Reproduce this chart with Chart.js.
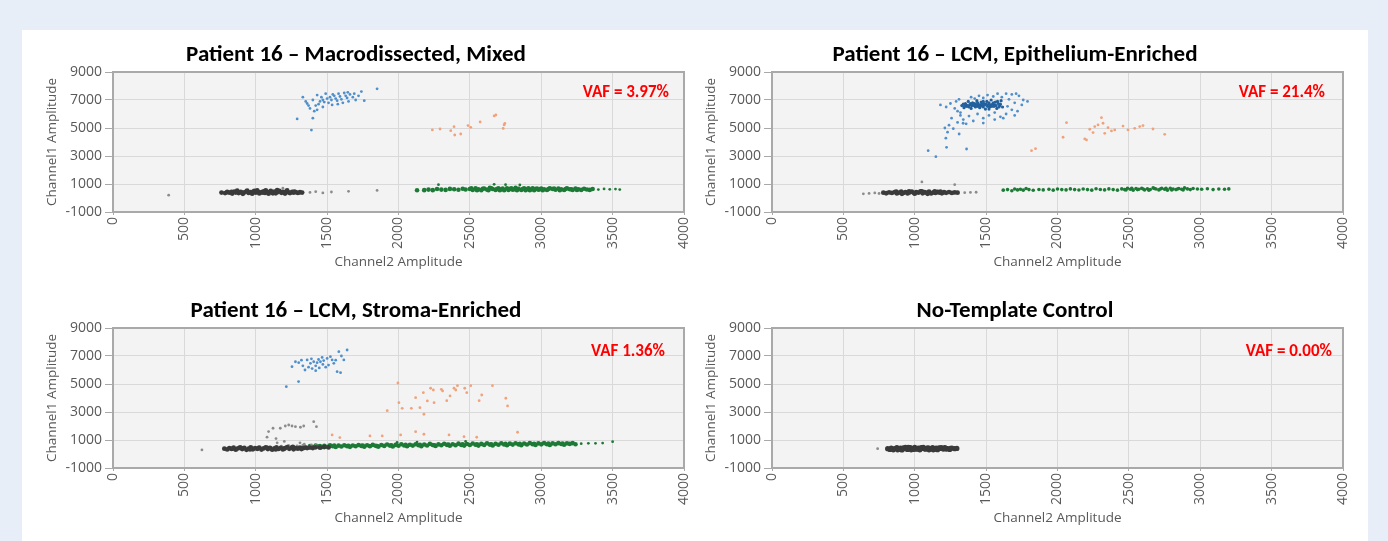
<!DOCTYPE html>
<html>
<head>
<meta charset="utf-8">
<script src="https://cdn.jsdelivr.net/npm/chart.js@4"></script>
<style>
body{margin:0;background:#e7eef8;width:1388px;height:541px;overflow:hidden;position:relative}
#panel{position:absolute;left:22px;top:30px;width:1346px;height:511px;background:#fff}
canvas{position:absolute}
</style>
</head>
<body>
<div id="panel"></div>
<canvas id="c1" width="672" height="242" style="left:28px;top:36px"></canvas>
<canvas id="c2" width="672" height="242" style="left:687px;top:36px"></canvas>
<canvas id="c3" width="672" height="242" style="left:28px;top:292px"></canvas>
<canvas id="c4" width="672" height="242" style="left:687px;top:292px"></canvas>
<script>
// axes
const xTicks=[0,500,1000,1500,2000,2500,3000,3500,4000];
const yTicks=[-1000,1000,3000,5000,7000,9000];
const titles=['Patient 16 \u2013 Macrodissected, Mixed','Patient 16 \u2013 LCM, Epithelium-Enriched','Patient 16 \u2013 LCM, Stroma-Enriched','No-Template Control'];
const vafs=['VAF = 3.97%','VAF = 21.4%','VAF 1.36%','VAF = 0.00%'];

// droplets [Channel2, Channel1]
// --- Patient 16 macrodissected
const mixGray=[
[760,390],[785,350],[800,430],[815,380],[835,320],[850,460],[860,390],[880,350],[895,440],[910,300],[920,400],[935,470],[950,360],[965,420],[975,310],[990,500],[1000,380],[1015,450],[1025,330],[1040,410],[1055,480],[1065,360],[1080,430],[1090,310],[1105,500],[1115,390],[1130,450],[1140,340],[1155,420],[1165,510],[1180,370],[1190,440],[1205,320],[1215,470],[1230,400],[1240,350],[1255,440],[1265,380],[1280,420],[1295,360],[1310,410],[1325,390],
[870,520],[940,530],[1010,540],[1070,550],[1150,560],[1220,540],
[830,440],[905,360],[980,440],[1050,390],[1120,340],[1200,400],[1270,460]];
const mixRain=[[390,200],[1190,700],[1380,400],[1420,450],[1470,360],[1530,430],[1650,480],[1850,540]];
const mixGreen=[[2130,550],[2180,560],[2210,600],[2240,560],[2270,640],[2300,600],[2330,580],[2360,650],[2390,620],[2420,590],[2450,660],[2470,610],
[2500,640],[2520,580],[2540,700],[2560,620],[2580,560],[2600,680],[2620,600],[2640,720],[2660,640],[2680,580],[2700,690],[2720,620],[2740,560],[2760,700],[2780,640],[2800,590],[2820,720],[2840,650],[2860,580],[2880,690],[2900,620],[2920,560],[2940,700],[2960,640],[2980,590],[3000,680],[3020,620],[3040,570],[3060,700],[3080,640],[3100,590],[3120,680],[3140,620],[3160,570],[3180,690],[3200,630],[3220,580],[3240,670],[3260,620],[3280,580],[3300,660],[3320,610],[3340,580],[3360,640],
[2510,700],[2550,560],[2590,660],[2630,560],[2650,700],[2690,640],[2710,560],[2730,680],[2770,580],[2790,700],[2810,620],[2830,560],[2870,640],[2890,560],[2910,700],[2930,620],[2950,560],[2970,680],[2990,620],[3010,560],[3050,640],[3090,680],[3130,560],[3170,640],[3210,620],[3250,580]];
const mixGreenOut=[[2280,950],[2670,980],[2750,950],[2850,930],[3400,600],[3440,650],[3480,620],[3520,640],[3550,600]];
const mixBlue=[[1290,5650],[1390,4850],[1400,5700],[1410,6200],[1380,6400],[1330,7200],[1350,6900],[1360,6750],[1420,6600],[1440,6700],[1450,6900],[1470,7000],[1480,6850],[1500,7100],[1510,6800],[1520,7200],[1530,7000],[1540,7400],[1550,7300],[1560,7100],[1570,6950],[1580,7450],[1590,7250],[1600,7050],[1610,6800],[1620,7500],[1630,7300],[1640,7150],[1650,6900],[1660,7400],[1680,7200],[1700,7000],[1720,7300],[1740,7600],[1760,6950],[1850,7800],[1430,7350],[1460,7200],[1490,7450],[1535,6650],[1575,6700],[1645,7550],[1690,7450],[1370,6600],[1400,7000],[1470,6500],[1430,6300]];
const mixOrange=[[2237,4860],[2291,4930],[2366,4810],[2389,5095],[2394,4500],[2436,4570],[2487,5170],[2506,5050],[2572,5430],[2670,5860],[2682,5930],[2740,5220],[2733,4970],[2745,5330]];

// --- Patient 16 LCM epithelium
const epiGray=[[780,380],[800,340],[820,400],[840,360],[860,420],[875,330],[890,390],[905,450],[920,360],[935,420],[950,330],[965,400],[980,460],[995,350],[1010,420],[1025,380],[1040,470],[1055,340],[1070,410],[1085,370],[1100,450],[1115,330],[1130,400],[1145,360],[1160,430],[1175,380],[1190,340],[1205,410],[1220,370],[1240,420],[1260,360],[1280,400],[1300,380],
[870,460],[910,300],[960,470],[1000,310],[1050,480],[1090,300],[1140,470],[1180,450]];
const epiRain=[[640,300],[680,330],[720,360],[750,320],[1050,1150],[1280,950],[1350,380],[1390,400],[1430,410]];
const epiGreen=[[1620,560],[1650,600],[1680,520],[1700,640],[1720,580],[1740,620],[1760,560],[1780,680],[1800,600],[1830,550],[1870,610],[1900,580],[1940,620],[1970,560],[2000,640],[2030,600],[2060,580],[2090,650],[2120,600],[2150,570],[2180,640],[2210,600],[2240,560],[2270,660],[2300,610],[2330,580],[2360,650],[2390,600],[2420,560],
[2450,650],[2470,600],[2490,700],[2510,620],[2530,560],[2550,680],[2570,620],[2590,700],[2610,580],[2630,660],[2650,610],[2670,720],[2690,640],[2710,580],[2730,690],[2750,620],[2770,560],[2790,700],[2810,640],[2830,600],[2850,680],[2870,620],[2890,720],[2910,650],[2930,600],[2950,680],
[2480,580],[2520,700],[2560,600],[2600,640],[2640,560],[2680,680],[2720,640],[2760,700],[2800,580],[2840,640],[2880,580],
[2980,640],[3010,620],[3050,660],[3090,600],[3130,640],[3170,620],[3200,650]];
const epiBlueCore=[[1330,6600],[1345,6450],[1355,6750],[1365,6550],[1375,6900],[1385,6650],[1395,6400],[1405,6800],[1415,6600],[1425,6500],[1435,6950],[1445,6700],[1455,6450],[1465,6850],[1475,6600],[1485,6750],[1495,6350],[1505,6900],[1515,6650],[1525,6500],[1535,7000],[1545,6700],[1555,6550],[1565,6850],[1575,6400],[1585,6750],[1595,6600],[1605,6950],[1615,6500],
[1340,6700],[1360,6650],[1380,6500],[1400,6600],[1420,6750],[1440,6550],[1460,6650],[1480,6500],[1500,6700],[1520,6800],[1540,6550],[1560,6650],[1580,6900],[1600,6700],
[1350,6550],[1390,6750],[1430,6650],[1470,6700],[1510,6550],[1550,6800],[1590,6500],[1450,6600],[1490,6650],[1410,6700],[1370,6600],[1530,6650],[1570,6600],[1460,6550],[1440,6800],[1480,6900],[1520,6350]];
const epiBlue=[[1180,6650],[1220,6500],[1250,6750],[1280,6400],[1290,6900],[1300,6200],[1310,7050],[1320,6100],[1395,7200],[1420,7100],[1450,7300],[1480,7150],[1510,7350],[1550,7250],[1580,7450],[1610,7200],[1640,7450],[1660,7050],[1680,7400],[1700,6800],[1710,7450],[1730,7300],[1750,6650],[1760,7000],[1790,6900],[1650,6550],[1680,6300],[1720,6200],[1640,6000],[1600,5800],[1560,5600],[1520,5900],[1480,5700],[1440,6000],[1410,5500],[1380,5850],[1360,5300],[1340,5600],[1320,5900],[1300,5400],[1480,5350],[1560,6100],[1620,5700],[1700,5900],
[1258,5700],[1240,5200],[1211,5000],[1230,4700],[1218,4270],[1223,3620],[1311,4570],[1339,5340],[1363,3500],[1094,3380],[1148,2950],[1270,4950]];
const epiOrange=[[1818,3380],[1846,3520],[2039,4340],[2063,5380],[2191,4220],[2203,4150],[2226,4910],[2249,4670],[2261,5100],[2284,5220],[2308,5740],[2319,5340],[2331,4620],[2354,5020],[2378,4790],[2401,4860],[2459,5140],[2494,4860],[2541,4980],[2576,5100],[2599,5170],[2669,4930],[2751,4550]];

// --- Patient 16 LCM stroma
const strGray=[
[780,380],[800,330],[815,420],[830,360],[845,450],[860,310],[875,400],[890,470],[905,350],[920,430],[935,300],[950,390],[965,480],[980,340],[995,420],[1010,370],[1025,460],[1040,320],[1055,400],[1070,480],[1085,350],[1100,430],[1115,310],[1130,400],[1145,470],[1160,360],[1175,440],[1190,330],[1205,420],[1220,490],[1235,370],[1250,450],[1265,340],[1280,420],[1295,380],[1310,460],[1325,400],[1340,440],[1360,420],[1380,460],[1400,430],[1420,480],[1450,450],[1480,500],[1510,470],
[840,380],[900,420],[960,330],[1020,410],[1080,440],[1140,330],[1200,380],[1260,500],[1320,350]];
const strRain=[[623,290],[1180,560],[1230,620],[1290,580],[1330,640],[1390,650],[1420,600],[1310,800],[1340,700],
[1079,1200],[1142,1100],[1090,1600],[1121,1840],[1172,1840],[1207,2000],[1231,2070],[1254,2000],[1278,1950],[1313,1910],[1336,2000],[1406,2310],[1425,1950],[1200,900],[1150,800]];
const strGreen=[[1350,480],[1380,560],[1400,500],[1420,600],[1440,530],[1460,480],[1480,580],[1500,520],[1520,620],[1540,550],[1560,500],[1580,600],[1600,540],[1620,630],[1640,560],[1660,510],[1680,610],[1700,550],[1720,640],[1740,580],[1760,520],[1780,620],[1800,560],[1820,650],[1840,590],[1860,530],[1880,640],[1900,580],[1920,680],[1940,600],[1960,540],[1980,650],[2000,590],[2020,700],[2040,610],[2060,560],[2080,660],[2100,600],[2120,700],[2140,620],[2160,560],[2180,680],[2200,610],[2220,720],[2240,640],[2260,580],[2280,690],[2300,620],[2320,730],[2340,650],[2360,590],[2380,700],[2400,630],[2420,740],[2440,650],[2460,600],[2480,710],[2500,640],[2520,750],[2540,660],[2560,600],[2580,720],[2600,650],[2620,760],[2640,670],[2660,610],[2680,730],[2700,660],[2720,770],[2740,680],[2760,620],[2780,740],[2800,670],[2820,770],[2840,690],[2860,630],[2880,750],[2900,680],[2920,780],[2940,700],[2960,640],[2980,760],[3000,690],[3020,780],[3040,700],[3060,650],[3080,760],[3100,700],[3120,780],[3140,710],[3160,660],[3180,760],[3200,720],[3220,780],[3240,700],
[1450,560],[1550,600],[1650,580],[1750,600],[1850,560],[1950,620],[2050,650],[2150,650],[2250,620],[2350,680],[2450,700],[2550,690],[2650,700],[2750,720],[2850,720],[2950,720],[3050,740],[3150,740]];
const strGreenOut=[[2470,900],[2130,850],[1990,820],[3280,740],[3330,760],[3380,760],[3430,780],[3500,880]];
const strBlue=[[1214,4810],[1300,5170],[1254,6240],[1278,6590],[1301,6520],[1360,6720],[1383,6480],[1406,6590],[1430,6520],[1453,6590],[1476,6670],[1500,6830],[1523,6950],[1535,6720],[1547,6480],[1570,5880],[1594,5810],[1582,7310],[1617,6720],[1640,7430],
[1330,6300],[1345,6000],[1370,6200],[1395,6100],[1420,6300],[1445,6150],[1470,6400],[1490,6200],[1510,6350],[1390,6800],[1440,6750],[1465,6900],[1420,5950],[1560,6700],[1600,7000],[1320,6700]];
const strOrange=[[1535,1360],[1589,1170],[1800,1290],[1886,1290],[1921,3095],[1996,5070],[2003,3666],[2026,3266],[2015,1360],[2090,3266],[2120,4023],[2150,3310],[2178,2838],[2174,4380],[2202,3788],[2225,4695],[2244,4573],[2249,3666],[2300,4623],[2309,4502],[2338,3810],[2361,4145],[2389,4695],[2401,4573],[2413,4880],[2464,4695],[2478,4380],[2506,4880],[2565,3810],[2583,4216],[2658,4880],[2752,3981],[2764,3431],[2120,1596],[2178,1410],[2354,1360],[2459,1239],[2548,1196],[2834,1553]];

// --- no template control
const ntcGray=[
[810,380],[825,330],[835,430],[850,300],[860,390],[875,460],[885,340],[900,420],[910,290],[925,380],[935,470],[950,330],[960,420],[975,300],[985,390],[1000,470],[1010,340],[1025,430],[1035,300],[1050,400],[1060,470],[1075,340],[1085,420],[1100,300],[1110,390],[1125,460],[1135,340],[1150,420],[1160,310],[1175,400],[1185,460],[1200,350],[1215,420],[1230,380],[1245,330],[1260,420],[1280,380],[1295,400],
[840,360],[870,410],[895,370],[920,440],[945,360],[970,450],[990,330],[1020,370],[1045,450],[1070,380],[1095,440],[1120,370],[1145,360],[1170,440],[1195,400],[1220,350],[1250,400],[880,300],[955,480],[1040,350],[1130,300],[1210,460]];
const ntcRain=[[740,380]];

const GRAY='#3a3a3a', RAIN='#8c8c8c', GREEN='#1d7a36', BLUE='#4f8fcb', BLUE2='#22609e', ORANGE='#f2a27a';
const titleFont='Carlito, "Liberation Sans Narrow", "Open Sans", sans-serif';
const tickFont='"Open Sans", "Noto Sans", sans-serif';

function ds(pts,color,r){
    return {data:pts.map(p=>({x:p[0],y:p[1]})),backgroundColor:color,borderWidth:0,pointRadius:r||1.4,pointHoverRadius:r||1.4};
}

// plot background, frame and VAF label
const plotDeco={
    id:'plotDeco',
    beforeDraw(chart){
        const a=chart.chartArea, c=chart.ctx;
        c.save();
        c.fillStyle='#f3f3f3';
        c.fillRect(a.left,a.top,a.right-a.left,a.bottom-a.top);
        c.restore();
    },
    afterDraw(chart,args,opts){
        const a=chart.chartArea, c=chart.ctx;
        c.save();
        c.strokeStyle='#a9a9a9';
        c.lineWidth=2;
        c.strokeRect(a.left,a.top,a.right-a.left,a.bottom-a.top);
        c.fillStyle='#ff0000';
        c.font='bold 17px '+titleFont;
        c.textAlign='right';
        c.textBaseline='middle';
        c.fillText(opts.text,a.right-opts.dx,a.top+opts.dy);
        c.restore();
    }
};

function makeChart(id,title,vaf,dx,dy,sets){
    new Chart(document.getElementById(id),{
        type:'scatter',
        data:{datasets:sets},
        plugins:[plotDeco],
        options:{
            responsive:false,
            animation:false,
            devicePixelRatio:1,
            layout:{padding:{left:0,right:16,top:0,bottom:0}},
            plugins:{
                legend:{display:false},
                tooltip:{enabled:false},
                title:{display:true,text:title,color:'#000',font:{family:titleFont,size:23,weight:'bold'},padding:{top:5,bottom:3.4}},
                plotDeco:{text:vaf,dx:dx,dy:dy}
            },
            scales:{
                x:{
                    min:0,max:4000,
                    afterBuildTicks:s=>{s.ticks=xTicks.map(v=>({value:v}))},
                    afterFit:s=>{s.height=66;s.paddingLeft=0;s.paddingRight=0},
                    grid:{color:'#d9d9d9',tickColor:'#a9a9a9',tickLength:3},
                    border:{display:false},
                    ticks:{minRotation:90,maxRotation:90,padding:2,color:'#595959',font:{family:tickFont,size:14},callback:v=>String(v)},
                    title:{display:true,text:'Channel2 Amplitude',color:'#595959',font:{family:tickFont,size:13.5},padding:{top:0,bottom:8}}
                },
                y:{
                    min:-1000,max:9000,
                    afterBuildTicks:s=>{s.ticks=yTicks.map(v=>({value:v}))},
                    afterFit:s=>{s.width=85},
                    grid:{color:'#d9d9d9',tickColor:'#a9a9a9',tickLength:8},
                    border:{display:false},
                    ticks:{padding:3,color:'#595959',font:{family:tickFont,size:14},callback:v=>String(v)},
                    title:{display:true,text:'Channel1 Amplitude',color:'#595959',font:{family:tickFont,size:13.5},padding:{top:16,bottom:0}}
                }
            }
        }
    });
}

makeChart('c1',titles[0],vafs[0],15,21,[ds(mixGray,GRAY,2.4),ds(mixRain,RAIN),ds(mixGreen,GREEN,2.3),ds(mixGreenOut,GREEN),ds(mixBlue,BLUE),ds(mixOrange,ORANGE)]);
makeChart('c2',titles[1],vafs[1],18,21,[ds(epiGray,GRAY,2.4),ds(epiRain,RAIN),ds(epiGreen,GREEN,1.8),ds(epiBlue,BLUE),ds(epiBlueCore,BLUE2,1.6),ds(epiOrange,ORANGE)]);
makeChart('c3',titles[2],vafs[2],19,24,[ds(strGray,GRAY,2.4),ds(strRain,RAIN),ds(strGreen,GREEN,2.3),ds(strGreenOut,GREEN),ds(strBlue,BLUE),ds(strOrange,ORANGE)]);
makeChart('c4',titles[3],vafs[3],11,24,[ds(ntcGray,GRAY,2.6),ds(ntcRain,RAIN)]);
</script>
</body>
</html>
